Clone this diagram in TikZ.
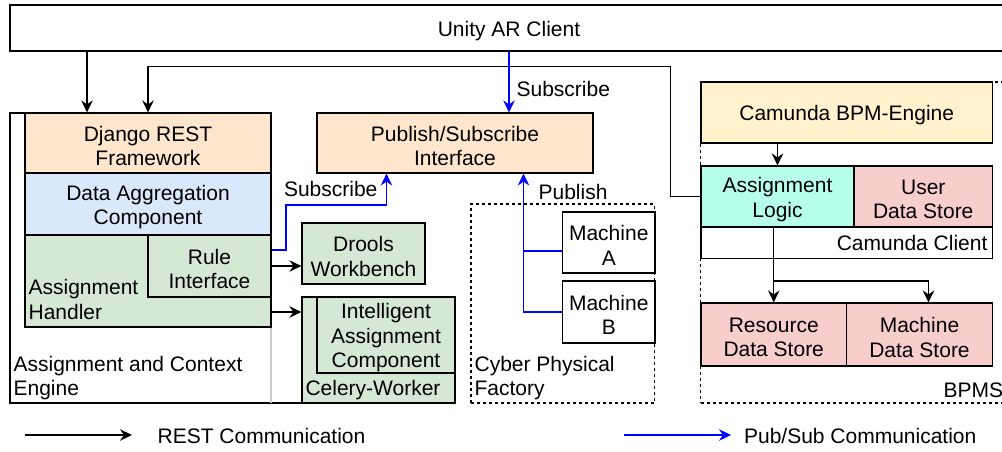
\documentclass[tikz,border=0pt]{standalone}
\usepackage{fontspec}
\setmainfont{Liberation Sans}
\usetikzlibrary{arrows.meta}
\definecolor{peach}{HTML}{FFE6CC}
\definecolor{lblue}{HTML}{DAE8FC}
\definecolor{lgreen}{HTML}{D5E8D4}
\definecolor{lyellow}{HTML}{FFF2CC}
\definecolor{lred}{HTML}{F8CECC}
\definecolor{lcyan}{RGB}{182,255,236}
\definecolor{pubblue}{HTML}{0000FF}
\definecolor{lgray}{HTML}{CCCCCC}
\newsavebox\txtbx
\begin{document}
\begin{tikzpicture}[x=1pt,y=-1pt,
  font=\fontsize{21}{24.5}\selectfont,
  line width=1.2pt,
  box/.style={draw, line width=1.2pt, inner sep=0pt, align=center,
    execute at begin node={\setbox\txtbx=\hbox\bgroup},
    execute at end node={\egroup\ht\txtbx=\dimexpr\ht\txtbx+6pt\relax\box\txtbx}},
  arr/.style={-{Stealth[length=12pt,width=11.5pt,inset=4pt]}},
  pub/.style={arr, draw=pubblue},
  dashedframe/.style={draw, dash pattern=on 3pt off 3pt, line width=1.1pt, inner sep=0pt},
  lbl/.style={inner sep=0pt, align=left}]
\useasboundingbox (0,0) rectangle (1002,451);
\clip (0,0) rectangle (1002,451);

% Unity
\node[box, minimum width=998pt, minimum height=46pt] (unity) at (509,28) {Unity AR Client};

% Assignment and Context Engine frame
\draw (271,113) -- (10,113) -- (10,403) -- (302,403);
\draw[lgray] (271,327) -- (271,403);
\node[box, fill=peach, minimum width=246pt, minimum height=60pt] (django) at (148,143) {Django REST\\Framework};
\node[box, fill=lblue, minimum width=246pt, minimum height=62pt] (dac) at (148,204) {Data Aggregation\\Component};
\node[box, fill=lgreen, minimum width=246pt, minimum height=92pt] (handler) at (148,281) {};
\node[lbl, anchor=west] (handlertxt) at (28,299.5) {Assignment\\Handler};
\node[box, fill=lgreen, minimum width=123pt, minimum height=62pt] (rule) at (209.5,266) {Rule\\Interface};
\node[lbl, anchor=west] (acetxt) at (13,378) {Assignment and Context\\Engine};

% Drools / Celery
\node[box, fill=lgreen, minimum width=123pt, minimum height=61pt] (drools) at (363.5,253.5) {Drools\\Workbench};
\node[box, fill=lgreen, minimum width=153pt, minimum height=106pt] (celery) at (378.5,350) {};
\node[box, fill=lgreen, minimum width=138pt, minimum height=76pt] (iac) at (386,335) {Intelligent\\Assignment\\Component};
\node[lbl] (celerytxt) at (373,390) {Celery-Worker};

% Pub/Sub
\node[box, fill=peach, minimum width=276pt, minimum height=60pt] (pubsub) at (455,143) {Publish/Subscribe\\Interface};

% Cyber Physical Factory
\node[dashedframe, minimum width=183.6pt, minimum height=199pt] (cpf) at (562.8,303.5) {};
\node[lbl, anchor=west] (cpftxt) at (474,378) {Cyber Physical\\Factory};
\node[box, fill=white, minimum width=92.5pt, minimum height=61pt] (machA) at (608.75,242.5) {Machine\\A};
\node[box, fill=white, minimum width=92.5pt, minimum height=62pt] (machB) at (608.75,312) {Machine\\B};

% BPMS
\node[dashedframe, minimum width=309.3pt, minimum height=321pt] (bpms) at (855.35,242.5) {};
\node[lbl, anchor=west] (bpmstxt) at (943,390) {BPMS};
\node[box, fill=lyellow, minimum width=291.5pt, minimum height=61pt] (camunda) at (846.75,112.5) {Camunda BPM-Engine};
\node[box, fill=white, minimum width=291.5pt, minimum height=92.5pt] (client) at (846.75,212.25) {};
\node[box, fill=lcyan, minimum width=153pt, minimum height=61pt] (alogic) at (777.5,196.5) {Assignment\\Logic};
\node[box, fill=lred, minimum width=138.5pt, minimum height=61pt] (user) at (923.25,196.5) {User\\Data Store};
\node[lbl, anchor=east] (clienttxt) at (988,242.5) {Camunda Client};
\node[box, fill=lred, minimum width=145.5pt, minimum height=63pt] (resource) at (773.75,334.5) {Resource\\Data Store};
\node[box, fill=lred, minimum width=146pt, minimum height=63pt] (machds) at (919.5,334.5) {Machine\\Data Store};

% REST connectors
\draw[arr] ([xshift=-61pt]django.north |- unity.south) -- ([xshift=-61pt]django.north);
\draw[arr] (alogic.west) -| (670.5,66.5) -| (django.north);
\draw[arr] (rule.east) -- (rule.east -| drools.west);
\draw[arr] ([yshift=-31pt]handler.east) -- ([yshift=-31pt]handler.east -| celery.west);
\draw[arr] (camunda.south -| alogic.north) -- (alogic.north);
\draw[arr] (alogic.south -| resource.north) -- (resource.north);
\coordinate (br) at (773.75,281);
\draw[arr] (br) -| ([xshift=9pt]machds.north);

% Pub/Sub connectors
\draw[pub] ([xshift=54pt]pubsub.north |- unity.south) -- ([xshift=54pt]pubsub.north);
\node[lbl, anchor=west] (sub1) at (516,89) {Subscribe};
\draw[pub] ([yshift=16pt]rule.east) -| (286,205) -| ([xshift=-68.5pt]pubsub.south);
\node[lbl, anchor=east] (sub2) at (378,188.5) {Subscribe};
\coordinate (pj) at (523.5,251);
\draw[pubblue] ([yshift=-8.5pt]machA.west) -- ([yshift=-8.5pt]machA.west -| pj);
\draw[pub] (machB.west) -| ([xshift=68.5pt]pubsub.south);
\node[lbl, anchor=west] (publ) at (538,191.5) {Publish};

% Legend
\coordinate (l1a) at (25,435);
\coordinate (l1b) at (132,435);
\draw[arr] (l1a) -- (l1b);
\node[lbl, anchor=west] (l1t) at (157,435.5) {REST Communication};
\coordinate (l2a) at (624,435);
\coordinate (l2b) at (731,435);
\draw[pub] (l2a) -- (l2b);
\node[lbl, anchor=west] (l2t) at (743.5,435.5) {Pub/Sub Communication};
\end{tikzpicture}
\end{document}
